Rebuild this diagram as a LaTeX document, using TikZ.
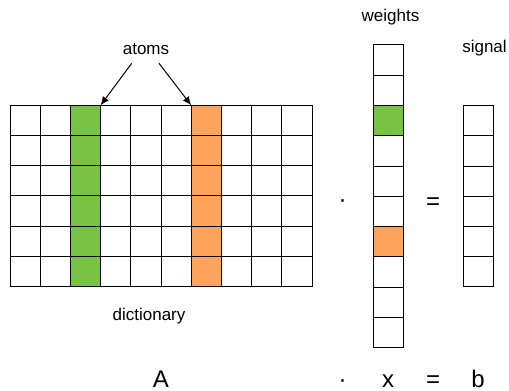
\documentclass[tikz,border=0pt]{standalone}
\usepackage{fontspec}
\setmainfont{Liberation Sans}
\usetikzlibrary{arrows.meta}
\definecolor{atomgreen}{RGB}{120,194,68}
\definecolor{atomorange}{RGB}{255,164,92}
\begin{document}
\begin{tikzpicture}[x=0.75pt,y=-0.75pt,
  cell/.style={draw=black, line width=0.75pt, inner sep=0pt, outer sep=0pt,
    minimum width=22.65pt, minimum height=22.67pt},
  lbl/.style={font=\fontsize{12.75pt}{15pt}\selectfont, inner sep=0pt, anchor=base},
  big/.style={font=\fontsize{18pt}{21pt}\selectfont, inner sep=0pt, anchor=base},
  pointer/.style={-{Latex[length=6.5pt,width=5.5pt]}, line width=0.75pt}]
\useasboundingbox (0,0) rectangle (509,391);
\fill[white] (0,0) rectangle (509,391);
% dictionary matrix
\foreach \c in {0,...,9}{\foreach \r in {0,...,5}{
  \ifnum\c=2 \def\fc{atomgreen}\else\ifnum\c=6 \def\fc{atomorange}\else\def\fc{white}\fi\fi
  \node[cell, fill=\fc] (A-\r-\c) at ({10+30.2*(\c+0.5)},{105.3+30.23*(\r+0.5)}) {};
}}
% weights vector
\foreach \r in {0,...,9}{
  \ifnum\r=2 \def\fc{atomgreen}\else\ifnum\r=6 \def\fc{atomorange}\else\def\fc{white}\fi\fi
  \node[cell, fill=\fc, minimum width=22.5pt, minimum height=22.7pt] (x-\r) at (388,{45+30.27*(\r+0.5)}) {};
}
% signal vector
\foreach \r in {0,...,5}{
  \node[cell, fill=white, minimum width=22.7pt] (b-\r) at (478.85,{105.7+30.17*(\r+0.5)}) {};
}
% labels
\node[lbl] (weights) at (390.5,22) {weights};
\node[lbl] (signal) at (484.5,53) {signal};
\node[lbl] (atoms) at (146,55) {atoms};
\node[lbl] (dict) at (149,320) {dictionary};
\node[big] (dot1) at (342.5,207.5) {·};
\node[big] (eq1) at (433,210) {=};
% bottom equation
\node[big] (eA) at (161,387) {A};
\node[big] (edot) at (342.7,387) {·};
\node[big] (ex) at (388,387) {x};
\node[big] (eeq) at (433,387) {=};
\node[big] (eb) at (478,387) {b};
% arrows
\coordinate (s1) at (131.7,63.3);
\coordinate (s2) at (159,63.3);
\draw[pointer] (s1) -- (A-0-2.north east);
\draw[pointer] (s2) -- (A-0-6.north west);
\end{tikzpicture}
\end{document}
